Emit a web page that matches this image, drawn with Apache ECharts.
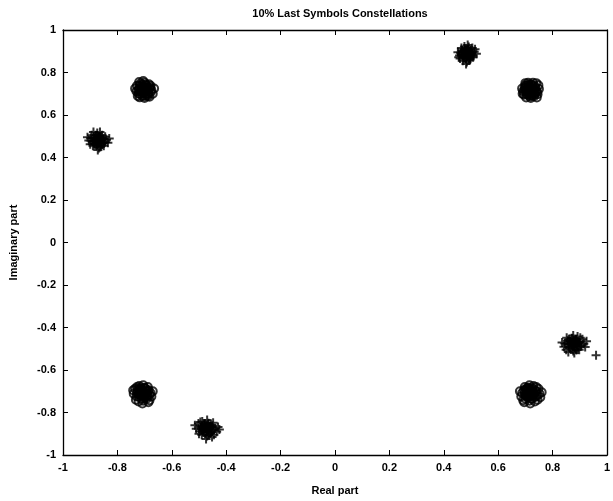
<!DOCTYPE html>
<html>
<head>
<meta charset="utf-8">
<script src="https://cdn.jsdelivr.net/npm/echarts@6/dist/echarts.min.js"></script>
<style>
  html, body { margin: 0; padding: 0; background: #fff; }
  #chart { width: 613px; height: 501px; }
</style>
</head>
<body>
<div id="chart"></div>
<script>
// axis ticks
var xTicks = [-1, -0.8, -0.6, -0.4, -0.2, 0, 0.2, 0.4, 0.6, 0.8, 1];
var yTicks = [-1, -0.8, -0.6, -0.4, -0.2, 0, 0.2, 0.4, 0.6, 0.8, 1];

// '+' clusters
var plusTopRight = [[0.483,0.890],[0.470,0.884],[0.495,0.897],[0.478,0.905],[0.490,0.876],[0.462,0.893],[0.503,0.886],[0.474,0.871],[0.486,0.912],[0.499,0.905],[0.467,0.905],[0.481,0.864],[0.508,0.872],[0.458,0.880],[0.492,0.920],[0.512,0.898],[0.476,0.922],[0.460,0.866],[0.497,0.861],[0.485,0.850],[0.470,0.855],[0.520,0.888],[0.452,0.895],[0.488,0.930],[0.505,0.915],[0.465,0.915],[0.479,0.897],[0.491,0.889],[0.473,0.878],[0.500,0.878],[0.482,0.840],[0.515,0.910],[0.455,0.872],[0.494,0.868],[0.468,0.897],
    [0.480,0.893],[0.488,0.886],[0.474,0.884],[0.494,0.896],[0.483,0.878],[0.477,0.912],[0.470,0.872],[0.498,0.870],[0.490,0.908],[0.464,0.886],[0.502,0.894],[0.484,0.902],[0.468,0.900],[0.492,0.858],[0.508,0.880]];
var plusTopLeft = [[-0.872,0.482],[-0.885,0.490],[-0.860,0.475],[-0.878,0.466],[-0.866,0.500],[-0.892,0.474],[-0.852,0.488],[-0.880,0.505],[-0.862,0.458],[-0.898,0.492],[-0.848,0.470],[-0.874,0.515],[-0.890,0.455],[-0.856,0.505],[-0.905,0.480],[-0.840,0.484],[-0.868,0.445],[-0.882,0.478],[-0.870,0.494],[-0.858,0.466],[-0.895,0.505],[-0.845,0.498],[-0.900,0.462],[-0.876,0.455],[-0.864,0.520],[-0.888,0.520],[-0.835,0.470],[-0.910,0.495],[-0.850,0.455],[-0.878,0.490],[-0.866,0.472],[-0.885,0.465],[-0.858,0.495],[-0.872,0.435],[-0.830,0.490],
    [-0.875,0.485],[-0.867,0.478],[-0.881,0.476],[-0.861,0.488],[-0.872,0.470],[-0.878,0.504],[-0.885,0.464],[-0.857,0.462],[-0.865,0.500],[-0.891,0.478],[-0.853,0.486],[-0.871,0.494],[-0.887,0.492],[-0.863,0.450],[-0.847,0.472]];
var plusBottomLeft = [[-0.473,-0.874],[-0.460,-0.866],[-0.485,-0.882],[-0.468,-0.890],[-0.480,-0.858],[-0.455,-0.880],[-0.492,-0.868],[-0.465,-0.850],[-0.478,-0.900],[-0.498,-0.888],[-0.450,-0.862],[-0.470,-0.910],[-0.502,-0.852],[-0.458,-0.898],[-0.440,-0.875],[-0.488,-0.842],[-0.510,-0.876],[-0.462,-0.872],[-0.476,-0.864],[-0.490,-0.905],[-0.448,-0.848],[-0.470,-0.835],[-0.435,-0.890],[-0.500,-0.900],[-0.466,-0.885],[-0.482,-0.878],[-0.445,-0.905],[-0.515,-0.860],[-0.456,-0.858],[-0.484,-0.870],[-0.425,-0.880],[-0.474,-0.925],[-0.495,-0.845],[-0.452,-0.915],[-0.430,-0.868],
    [-0.476,-0.871],[-0.468,-0.878],[-0.482,-0.880],[-0.462,-0.868],[-0.473,-0.886],[-0.479,-0.852],[-0.486,-0.892],[-0.458,-0.894],[-0.466,-0.856],[-0.492,-0.878],[-0.454,-0.870],[-0.472,-0.862],[-0.488,-0.864],[-0.464,-0.906],[-0.448,-0.884]];
var plusBottomRight = [[0.879,-0.474],[0.866,-0.466],[0.892,-0.482],[0.874,-0.490],[0.886,-0.458],[0.860,-0.480],[0.898,-0.468],[0.870,-0.450],[0.884,-0.500],[0.905,-0.488],[0.855,-0.462],[0.876,-0.510],[0.910,-0.455],[0.862,-0.498],[0.845,-0.475],[0.892,-0.442],[0.915,-0.476],[0.868,-0.472],[0.882,-0.464],[0.898,-0.505],[0.852,-0.448],[0.876,-0.438],[0.842,-0.490],[0.920,-0.492],[0.870,-0.485],[0.888,-0.478],[0.850,-0.505],[0.925,-0.465],[0.860,-0.455],[0.894,-0.470],[0.835,-0.470],[0.880,-0.520],[0.902,-0.448],[0.858,-0.515],[0.960,-0.530],
    [0.876,-0.471],[0.884,-0.478],[0.870,-0.480],[0.890,-0.468],[0.879,-0.486],[0.873,-0.452],[0.866,-0.492],[0.894,-0.494],[0.886,-0.456],[0.860,-0.478],[0.898,-0.470],[0.880,-0.462],[0.864,-0.464],[0.888,-0.506],[0.904,-0.484]];

// 'o' clusters
var circTopRight = [[0.718,0.718],[0.705,0.710],[0.730,0.725],[0.712,0.735],[0.726,0.700],[0.698,0.728],[0.740,0.712],[0.708,0.695],[0.722,0.742],[0.735,0.735],[0.700,0.740],[0.716,0.690],[0.745,0.698],[0.692,0.712],[0.728,0.752],[0.750,0.722],[0.710,0.752],[0.695,0.695],[0.732,0.688],[0.720,0.680],[0.703,0.682],[0.748,0.740],[0.688,0.725],[0.716,0.728],[0.724,0.710],[0.709,0.720],[0.735,0.705],[0.713,0.704],[0.700,0.750],[0.740,0.750],[0.742,0.682],[0.690,0.700],[0.727,0.730],[0.706,0.727],[0.720,0.696],
    [0.714,0.722],[0.722,0.715],[0.708,0.712],[0.730,0.718],[0.718,0.705],[0.712,0.742],[0.704,0.700],[0.734,0.698],[0.726,0.740],[0.698,0.716],[0.738,0.726],[0.716,0.732],[0.702,0.736],[0.724,0.690],[0.744,0.708]];
var circTopLeft = [[-0.703,0.718],[-0.690,0.725],[-0.715,0.710],[-0.698,0.700],[-0.712,0.735],[-0.685,0.708],[-0.720,0.722],[-0.695,0.742],[-0.708,0.690],[-0.722,0.700],[-0.680,0.730],[-0.700,0.752],[-0.728,0.738],[-0.688,0.690],[-0.675,0.718],[-0.715,0.748],[-0.730,0.712],[-0.692,0.715],[-0.706,0.728],[-0.718,0.683],[-0.684,0.745],[-0.700,0.680],[-0.670,0.700],[-0.725,0.690],[-0.696,0.730],[-0.710,0.705],[-0.678,0.738],[-0.735,0.725],[-0.690,0.700],[-0.713,0.720],[-0.665,0.725],[-0.705,0.760],[-0.720,0.755],[-0.682,0.686],[-0.702,0.712],
    [-0.707,0.722],[-0.699,0.715],[-0.713,0.712],[-0.691,0.718],[-0.703,0.705],[-0.709,0.742],[-0.717,0.700],[-0.687,0.698],[-0.695,0.740],[-0.723,0.716],[-0.683,0.726],[-0.705,0.732],[-0.719,0.736],[-0.697,0.690],[-0.677,0.708]];
var circBottomLeft = [[-0.708,-0.707],[-0.695,-0.700],[-0.720,-0.715],[-0.702,-0.722],[-0.716,-0.690],[-0.690,-0.718],[-0.725,-0.700],[-0.700,-0.685],[-0.712,-0.735],[-0.730,-0.725],[-0.685,-0.695],[-0.705,-0.745],[-0.735,-0.688],[-0.692,-0.735],[-0.678,-0.708],[-0.720,-0.675],[-0.740,-0.712],[-0.698,-0.710],[-0.710,-0.698],[-0.722,-0.748],[-0.688,-0.680],[-0.705,-0.672],[-0.675,-0.725],[-0.732,-0.740],[-0.700,-0.728],[-0.714,-0.718],[-0.682,-0.742],[-0.742,-0.695],[-0.694,-0.692],[-0.718,-0.705],[-0.670,-0.700],[-0.708,-0.758],[-0.728,-0.680],[-0.686,-0.752],[-0.704,-0.712],
    [-0.712,-0.703],[-0.704,-0.710],[-0.718,-0.713],[-0.696,-0.707],[-0.708,-0.720],[-0.714,-0.683],[-0.722,-0.725],[-0.692,-0.727],[-0.700,-0.685],[-0.728,-0.709],[-0.688,-0.699],[-0.710,-0.693],[-0.724,-0.689],[-0.702,-0.735],[-0.682,-0.717]];
var circBottomRight = [[0.718,-0.707],[0.705,-0.700],[0.730,-0.715],[0.712,-0.722],[0.726,-0.690],[0.700,-0.718],[0.740,-0.700],[0.708,-0.685],[0.722,-0.735],[0.742,-0.725],[0.695,-0.695],[0.715,-0.745],[0.748,-0.688],[0.700,-0.735],[0.688,-0.708],[0.730,-0.675],[0.752,-0.712],[0.710,-0.710],[0.720,-0.698],[0.735,-0.748],[0.698,-0.680],[0.715,-0.672],[0.685,-0.725],[0.745,-0.740],[0.710,-0.728],[0.725,-0.718],[0.692,-0.742],[0.755,-0.728],[0.704,-0.692],[0.728,-0.705],[0.680,-0.700],[0.718,-0.758],[0.740,-0.680],[0.696,-0.752],[0.760,-0.705],
    [0.714,-0.703],[0.722,-0.710],[0.708,-0.713],[0.730,-0.707],[0.718,-0.720],[0.712,-0.683],[0.704,-0.725],[0.734,-0.727],[0.726,-0.685],[0.698,-0.709],[0.738,-0.699],[0.716,-0.693],[0.702,-0.689],[0.724,-0.735],[0.744,-0.717]];

var plusPts = plusTopRight.concat(plusTopLeft, plusBottomLeft, plusBottomRight);
var circPts = circTopRight.concat(circTopLeft, circBottomLeft, circBottomRight);

var font = 'Liberation Sans, Arial, sans-serif';
var myChart = echarts.init(document.getElementById('chart'));

// MATLAB-like box: ticks inside on all four sides
var tickStyle = { inside: true, length: 5, lineStyle: { color: '#000', width: 1 } };
var lineStyle = { onZero: false, lineStyle: { color: '#000', width: 1.3 } };
var labelStyle = { fontFamily: font, fontSize: 11, fontWeight: 'bold', color: '#000', margin: 7 };

var option = {
    animation: false,
    backgroundColor: '#fff',
    title: {
        text: '10% Last Symbols Constellations',
        left: 335, top: 3, textAlign: 'center',
        textStyle: { fontFamily: font, fontSize: 11, fontWeight: 'bold', color: '#000' }
    },
    grid: { left: 62, right: 5, top: 30, bottom: 41, containLabel: false },
    xAxis: [{
        type: 'value', min: xTicks[0], max: xTicks[xTicks.length - 1], interval: 0.2,
        position: 'bottom',
        name: 'Real part', nameLocation: 'middle', nameGap: 30,
        nameTextStyle: { fontFamily: font, fontSize: 11, fontWeight: 'bold', color: '#000' },
        axisLine: lineStyle, axisTick: tickStyle, splitLine: { show: false },
        axisLabel: labelStyle
    }, {
        type: 'value', min: -1, max: 1, interval: 0.2, position: 'top',
        axisLine: lineStyle, axisTick: tickStyle, splitLine: { show: false },
        axisLabel: { show: false }
    }],
    yAxis: [{
        type: 'value', min: yTicks[0], max: yTicks[yTicks.length - 1], interval: 0.2,
        position: 'left',
        name: 'Imaginary part', nameLocation: 'middle', nameGap: 44, nameRotate: 90,
        nameTextStyle: { fontFamily: font, fontSize: 11, fontWeight: 'bold', color: '#000' },
        axisLine: lineStyle, axisTick: tickStyle, splitLine: { show: false },
        axisLabel: labelStyle
    }, {
        type: 'value', min: -1, max: 1, interval: 0.2, position: 'right',
        axisLine: lineStyle, axisTick: tickStyle, splitLine: { show: false },
        axisLabel: { show: false }
    }],
    series: [{
        name: 'plus', type: 'scatter', data: plusPts,
        symbol: 'path://M0,5L10,5M5,0L5,10', symbolSize: 9,
        itemStyle: { color: 'rgba(0,0,0,0)', borderColor: '#000', borderWidth: 2 }
    }, {
        name: 'circle', type: 'scatter', data: circPts,
        symbol: 'circle', symbolSize: 8,
        itemStyle: { color: 'rgba(0,0,0,0)', borderColor: '#000', borderWidth: 2 }
    }]
};

myChart.setOption(option);
</script>
</body>
</html>
